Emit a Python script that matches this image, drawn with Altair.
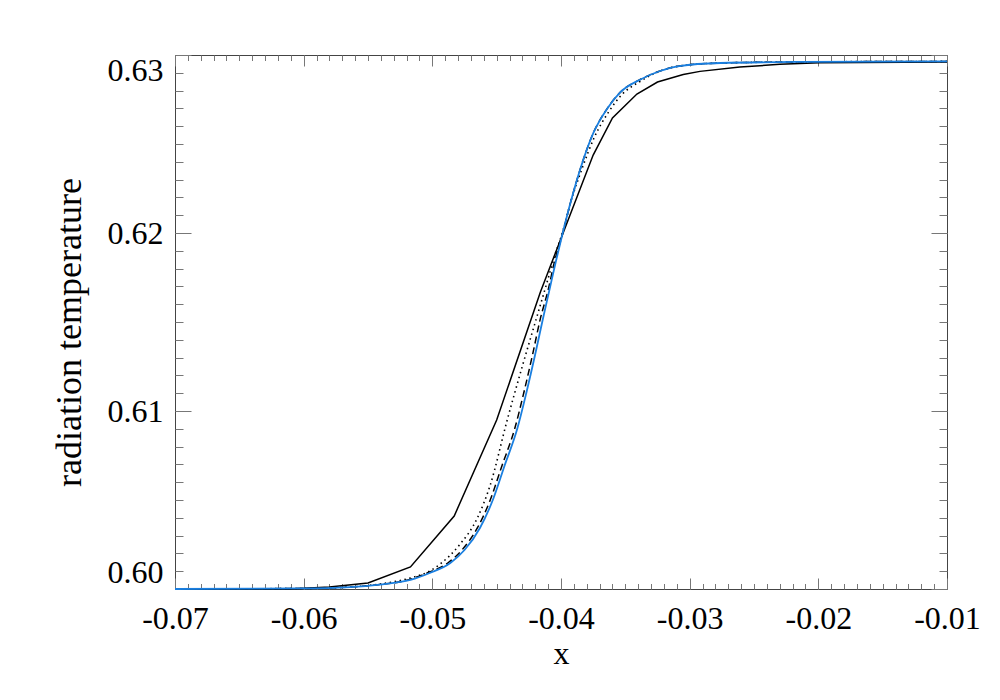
import altair as alt
import pandas as pd

# ---- axis tick values / labels ----
x_major = [-0.07, -0.06, -0.05, -0.04, -0.03, -0.02, -0.01]
x_minor = [round(-0.07 + 0.001 * i, 3) for i in range(61)]
y_major = [0.60, 0.61, 0.62, 0.63]
y_minor = [round(0.60 + 0.001 * i, 3) for i in range(31)]

# ---- series ----
black_x = [-0.0700, -0.0611, -0.0580, -0.0550, -0.0517, -0.0483, -0.0450, -0.0416,
           -0.0375, -0.0360, -0.0341, -0.0325, -0.0305, -0.0292, -0.0261, -0.0230,
           -0.0199, -0.0100]
black_y = [0.60000, 0.60000, 0.60011, 0.60034, 0.60124, 0.60410, 0.60949, 0.61669,
           0.62438, 0.62646, 0.62781, 0.62848, 0.62890, 0.62908, 0.62932, 0.62948,
           0.62956, 0.62961]

dotted_x = [-0.0700, -0.0603, -0.0564, -0.0541, -0.0517, -0.0502, -0.0494, -0.0479,
            -0.0465, -0.0455, -0.0442, -0.0430, -0.0419, -0.0411, -0.0405, -0.0399,
            -0.0392, -0.0384, -0.0374, -0.0363, -0.0353, -0.0338, -0.0323, -0.0308,
            -0.0276, -0.0214, -0.0100]
dotted_y = [0.60000, 0.60003, 0.60011, 0.60028, 0.60062, 0.60101, 0.60140, 0.60247,
            0.60399, 0.60584, 0.60944, 0.61253, 0.61523, 0.61719, 0.61870, 0.62000,
            0.62185, 0.62354, 0.62539, 0.62680, 0.62775, 0.62854, 0.62910, 0.62938,
            0.62955, 0.62961, 0.62964]

blue_x = [-0.0700, -0.0603, -0.0564, -0.0541, -0.0517, -0.0502, -0.0486, -0.0475,
          -0.0463, -0.0453, -0.0444, -0.0434, -0.0427, -0.0420, -0.0414, -0.0409,
          -0.0404, -0.0399, -0.0393, -0.0385, -0.0375, -0.0364, -0.0354, -0.0339,
          -0.0323, -0.0308, -0.0276, -0.0214, -0.0100]
blue_y = [0.60000, 0.60003, 0.60011, 0.60025, 0.60051, 0.60090, 0.60146, 0.60219,
          0.60343, 0.60500, 0.60690, 0.60900, 0.61100, 0.61320, 0.61520, 0.61680,
          0.61840, 0.61990, 0.62160, 0.62360, 0.62560, 0.62700, 0.62790, 0.62860,
          0.62910, 0.62938, 0.62955, 0.62961, 0.62964]

dashed_x = [-0.0700, -0.0603, -0.0564, -0.0541, -0.0519, -0.0504, -0.0488, -0.0477,
            -0.0465, -0.0455, -0.0446, -0.0436, -0.0429, -0.0422, -0.0416, -0.0410,
            -0.0405, -0.0399, -0.0393, -0.0385, -0.0375, -0.0364, -0.0354, -0.0339,
            -0.0323, -0.0308, -0.0276, -0.0214, -0.0100]
dashed_y = list(blue_y)

FONT = "Liberation Serif"
TICK = "#777777"
FS = 32
fix_minus = "replace(datum.label, '\u2212', '-')"

xscale = alt.Scale(domain=[-0.07, -0.01], nice=False, zero=False)
yscale = alt.Scale(domain=[0.60, 0.63], nice=False, zero=False)


def frame(xs, ys):
    return pd.DataFrame({"x": xs, "y": ys})


def minor_axis(orient, values, size):
    return alt.Axis(orient=orient, values=values, tickSize=size, offset=-size,
                    domain=False, grid=False, labels=False, title=None,
                    tickColor=TICK, tickWidth=1)


def major_axis(orient, values, size, labels=False, **kw):
    return alt.Axis(orient=orient, values=values, tickSize=size, offset=-size,
                    domain=False, grid=False, labels=labels, tickColor=TICK,
                    tickWidth=1, **kw)


ax_bottom = major_axis("bottom", x_major, 11, labels=True, format=".2f",
                       labelExpr=fix_minus, labelFont=FONT, labelFontSize=FS,
                       labelColor="black", labelPadding=14, labelFlush=False,
                       labelOverlap=False, title="x", titleFont=FONT,
                       titleFontSize=FS, titleFontWeight="normal",
                       titleColor="black", titlePadding=4)
ax_left = major_axis("left", y_major, 16, labels=True, format=".2f",
                     labelExpr=fix_minus, labelFont=FONT, labelFontSize=FS,
                     labelColor="black", labelPadding=12, labelFlush=True,
                     labelOverlap=False, title="radiation temperature",
                     titleFont=FONT, titleFontSize=36, titleFontWeight="normal",
                     titleColor="black", titlePadding=19, titleY=277)

l_black = alt.Chart(frame(black_x, black_y)).mark_line(
    color="black", strokeWidth=1.5, interpolate="linear"
).encode(
    x=alt.X("x:Q", scale=xscale, axis=ax_bottom),
    y=alt.Y("y:Q", scale=yscale, axis=ax_left),
)

l_dotted = alt.Chart(frame(dotted_x, dotted_y)).mark_line(
    color="black", strokeWidth=1.6, strokeDash=[1.5, 3.5], interpolate="monotone"
).encode(
    x=alt.X("x:Q", scale=xscale, axis=minor_axis("bottom", x_minor, 5.5)),
    y=alt.Y("y:Q", scale=yscale, axis=minor_axis("left", y_minor, 8)),
)

l_dashed = alt.Chart(frame(dashed_x, dashed_y)).mark_line(
    color="black", strokeWidth=1.5, strokeDash=[7, 4], interpolate="monotone"
).encode(
    x=alt.X("x:Q", scale=xscale, axis=major_axis("top", x_major, 11, title=None)),
    y=alt.Y("y:Q", scale=yscale, axis=major_axis("right", y_major, 16, title=None)),
)

l_blue = alt.Chart(frame(blue_x, blue_y)).mark_line(
    color="#1a7fe0", strokeWidth=1.8, interpolate="monotone"
).encode(
    x=alt.X("x:Q", scale=xscale, axis=minor_axis("top", x_minor, 5.5)),
    y=alt.Y("y:Q", scale=yscale, axis=minor_axis("right", y_minor, 8)),
)

chart = alt.layer(l_black, l_dotted, l_dashed, l_blue).resolve_axis(
    x="independent", y="independent"
).properties(
    width=772, height=534,
    autosize=alt.AutoSizeParams(type="none"),
    padding={"left": 167, "top": 47, "right": 45, "bottom": 103},
    background="white",
).configure_view(stroke="#444444", strokeWidth=1)

chart.save("out.html", embed_options={"renderer": "svg", "actions": False})
